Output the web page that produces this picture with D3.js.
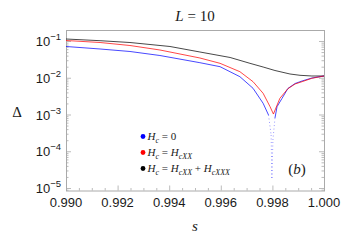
<!DOCTYPE html>
<html>
<head>
<meta charset="utf-8">
<script src="https://cdn.jsdelivr.net/npm/d3@7"></script>
<style>
  body { margin: 0; background: #fff; }
  svg { display: block; }
</style>
</head>
<body>
<div id="chart"></div>
<script>
// values (s, gap Delta)
let blackS = [0.99000, 0.99132, 0.99248, 0.99403, 0.99519, 0.99636, 0.99713, 0.99764, 0.99810, 0.99868, 0.99907, 0.99953, 1.00000];
let blackD = [0.1133, 0.1019, 0.0910, 0.0709, 0.0502, 0.0356, 0.0247, 0.0196, 0.01575, 0.01265, 0.01166, 0.01116, 0.01116];

let redS = [0.99000, 0.99132, 0.99248, 0.99364, 0.99519, 0.99597, 0.99674, 0.99725, 0.99764, 0.99791, 0.99804, 0.99829, 0.99860, 0.99888, 0.99915, 0.99953, 1.00000];
let redD = [0.1032, 0.0910, 0.0754, 0.0569, 0.0345, 0.0247, 0.01461, 0.00781, 0.003775, 0.00163, 0.001028, 0.002759, 0.005035, 0.00676, 0.00781, 0.00966, 0.01116];

let blueS = [0.99000, 0.99132, 0.99248, 0.99364, 0.99519, 0.99597, 0.99674, 0.99725, 0.99764, 0.99785, 0.99795, 0.99798, 0.99802, 0.99810, 0.99818, 0.99837, 0.99860, 0.99888, 0.99915, 0.99953, 1.00000];
let blueD = [0.0709, 0.0606, 0.0518, 0.0403, 0.02568, 0.0200, 0.01068, 0.00516, 0.002018, 0.000969, 0.000277, 0.0000187, 0.000202, 0.000804, 0.00163, 0.002725, 0.005098, 0.00698, 0.00816, 0.00984, 0.01116];

let xTicks = [0.990, 0.992, 0.994, 0.996, 0.998, 1.000];
let yExps = [-1, -2, -3, -4, -5];

// legend pieces: [text, italic, subscript]
let legendColors = ["#0000ff", "#ff0000", "#000000"];
let legendParts = [
    [["H", 1, 0], ["c", 1, 1], [" = 0", 0, 0]],
    [["H", 1, 0], ["c", 1, 1], [" = ", 0, 0], ["H", 1, 0], ["cXX", 1, 1]],
    [["H", 1, 0], ["c", 1, 1], [" = ", 0, 0], ["H", 1, 0], ["cXX", 1, 1], [" + ", 0, 0], ["H", 1, 0], ["cXXX", 1, 1]]
];

let width = 353, height = 246;
let margin = {top: 30, right: 29, bottom: 55.5, left: 66};
let frameColor = "#aaaaaa";
let textColor = "#1a1a1a";
let serif = "'Liberation Serif', 'Times New Roman', serif";
let sans = "'Liberation Sans', Arial, sans-serif";

let svg = d3.select("#chart").append("svg")
    .attr("width", width)
    .attr("height", height);

let x = d3.scaleLinear()
    .domain([0.990, 1.000])
    .range([margin.left, width - margin.right]);

let y = d3.scaleLog()
    .domain([Math.pow(10, -5.068), Math.pow(10, -0.7007)])
    .range([height - margin.bottom, margin.top]);

// clip for data
svg.append("clipPath").attr("id", "clip")
    .append("rect")
    .attr("x", x.range()[0]).attr("y", y.range()[1])
    .attr("width", x.range()[1] - x.range()[0])
    .attr("height", y.range()[0] - y.range()[1]);

// frame
svg.append("rect")
    .attr("x", x.range()[0] + 0.5)
    .attr("y", y.range()[1] + 0.5)
    .attr("width", x.range()[1] - x.range()[0])
    .attr("height", y.range()[0] - y.range()[1])
    .attr("fill", "none")
    .attr("stroke", frameColor)
    .attr("stroke-width", 1);

// x ticks (major + minor, pointing in)
let xMinor = d3.range(0, 21).map(i => 0.990 + i * 0.0005);
let ticksG = svg.append("g").attr("stroke", frameColor).attr("stroke-width", 0.8);
xMinor.forEach(v => {
    let isMajor = xTicks.some(t => Math.abs(t - v) < 1e-9);
    let len = isMajor ? 5 : 2.5;
    ticksG.append("line")
        .attr("x1", x(v) + 0.5).attr("x2", x(v) + 0.5)
        .attr("y1", y.range()[0]).attr("y2", y.range()[0] - len);
});

// y ticks on left and right
let yMinor = [];
for (let e = -6; e <= -1; e++) {
    for (let m = 1; m <= 9; m++) {
        let v = m * Math.pow(10, e);
        if (v >= y.domain()[0] && v <= y.domain()[1]) yMinor.push({v: v, major: m === 1});
    }
}
yMinor.forEach(d => {
    let len = d.major ? 5 : 2.5;
    ticksG.append("line")
        .attr("x1", x.range()[0]).attr("x2", x.range()[0] + len)
        .attr("y1", y(d.v) + 0.5).attr("y2", y(d.v) + 0.5);
    ticksG.append("line")
        .attr("x1", x.range()[1]).attr("x2", x.range()[1] - len)
        .attr("y1", y(d.v) + 0.5).attr("y2", y(d.v) + 0.5);
});

// x tick labels
svg.append("g").selectAll("text")
    .data(xTicks)
    .enter().append("text")
    .attr("x", d => x(d))
    .attr("y", 207)
    .attr("text-anchor", "middle")
    .attr("font-family", sans)
    .attr("font-size", 13)
    .attr("fill", textColor)
    .text(d => d3.format(".3f")(d));

// y tick labels 10^-n
let yLab = svg.append("g").selectAll("text")
    .data(yExps)
    .enter().append("text")
    .attr("x", 61)
    .attr("y", d => y(Math.pow(10, d)) + 5)
    .attr("text-anchor", "end")
    .attr("font-family", sans)
    .attr("font-size", 13)
    .attr("fill", textColor);
yLab.append("tspan").text("10");
yLab.append("tspan").attr("dy", -6).attr("font-size", 9.5).text(d => "\u2212" + Math.abs(d));

// series
let line = d3.line().x(d => x(d[0])).y(d => y(d[1]));

function drawSeries(sArr, dArr, color) {
    let pts = sArr.map((s, i) => [s, dArr[i]]);
    let g = svg.append("g").attr("clip-path", "url(#clip)");
    for (let i = 0; i < pts.length - 1; i++) {
        let deep = pts[i][1] < 4e-4 || pts[i + 1][1] < 4e-4;
        g.append("path")
            .attr("d", line([pts[i], pts[i + 1]]))
            .attr("fill", "none")
            .attr("stroke", color)
            .attr("stroke-width", deep ? 0.8 : 0.8)
            .attr("stroke-dasharray", deep ? "1,2.5" : null)
            .attr("stroke-opacity", deep ? 0.5 : 0.9);
    }
}

drawSeries(blackS, blackD, "#000000");
drawSeries(blueS, blueD, "#0000ff");
drawSeries(redS, redD, "#ff0000");

// title
let title = svg.append("text")
    .attr("x", 195)
    .attr("y", 21)
    .attr("text-anchor", "middle")
    .attr("font-family", serif)
    .attr("font-size", 15)
    .attr("fill", textColor);
title.append("tspan").attr("font-style", "italic").text("L");
title.append("tspan").text(" = 10");

// axis labels
svg.append("text")
    .attr("x", 195)
    .attr("y", 231)
    .attr("text-anchor", "middle")
    .attr("font-family", serif)
    .attr("font-style", "italic")
    .attr("font-size", 15)
    .attr("fill", textColor)
    .text("s");

svg.append("text")
    .attr("x", 17)
    .attr("y", 117)
    .attr("text-anchor", "middle")
    .attr("font-family", serif)
    .attr("font-size", 15)
    .attr("fill", textColor)
    .text("\u0394");

// legend
let legend = svg.append("g");
legendParts.forEach((parts, i) => {
    let ly = 136.5 + i * 16;
    legend.append("circle")
        .attr("cx", 143)
        .attr("cy", ly)
        .attr("r", 2.4)
        .attr("fill", legendColors[i]);
    let t = legend.append("text")
        .attr("x", 147.5)
        .attr("y", ly + 3.5)
        .attr("font-family", serif)
        .attr("font-size", 11)
        .attr("fill", textColor);
    let shifted = false;
    parts.forEach(p => {
        let ts = t.append("tspan").text(p[0]);
        if (p[1]) ts.attr("font-style", "italic");
        if (p[2]) {
            ts.attr("font-size", 8).attr("dy", shifted ? 0 : 2.5);
            shifted = true;
        } else if (shifted) {
            ts.attr("dy", -2.5);
            shifted = false;
        }
    });
});

// panel tag
let tag = svg.append("text")
    .attr("x", 297)
    .attr("y", 174)
    .attr("text-anchor", "middle")
    .attr("font-family", serif)
    .attr("font-size", 15)
    .attr("fill", textColor);
tag.append("tspan").text("(");
tag.append("tspan").attr("font-style", "italic").text("b");
tag.append("tspan").text(")");
</script>
</body>
</html>
